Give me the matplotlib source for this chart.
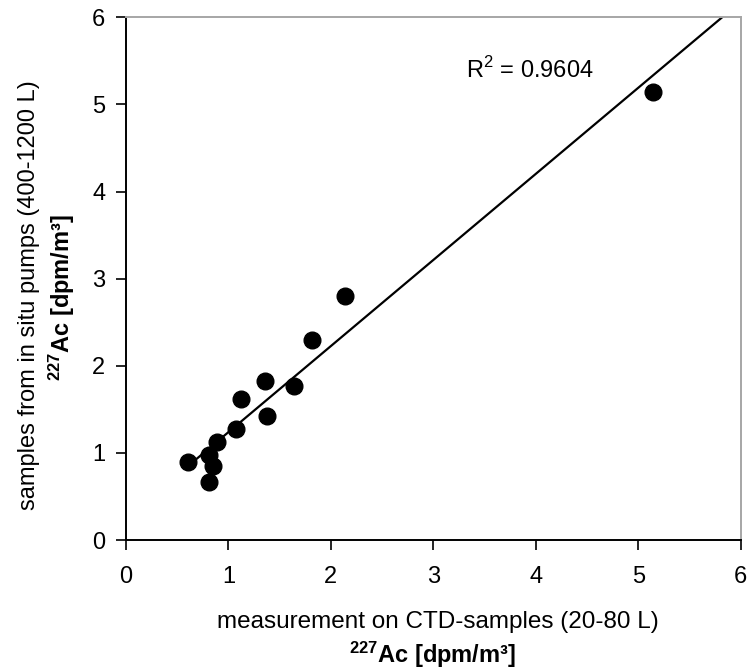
import numpy as np
import matplotlib
matplotlib.use("Agg")
import matplotlib.pyplot as plt

# data (dpm/m3)
ctd = [0.61, 0.81, 0.85, 0.81, 0.89, 1.07, 1.12, 1.38, 1.36, 1.64, 1.82, 2.14, 5.14]
pumps = [0.89, 0.98, 0.85, 0.67, 1.12, 1.28, 1.62, 1.42, 1.82, 1.77, 2.30, 2.80, 5.14]
r2_text = "R$^2$ = 0.9604"
ticks = [0, 1, 2, 3, 4, 5, 6]

plt.rcParams['font.family'] = ['Liberation Sans', 'DejaVu Sans']
plt.rcParams['mathtext.fontset'] = 'custom'
plt.rcParams['mathtext.rm'] = 'Liberation Sans'
plt.rcParams['mathtext.bf'] = 'Liberation Sans:bold'

fig = plt.figure(figsize=(7.49, 6.71), dpi=100)
ax = fig.add_axes([0.1682, 0.1952, 0.8207, 0.779])

x = np.array(ctd)
y = np.array(pumps)
ax.plot(x, y, 'o', color='black', markersize=12, zorder=3)

# linear trend line
k, b = np.polyfit(x, y, 1)
xs = np.array([x.min(), 6.0])
ax.plot(xs, k * xs + b, color='black', lw=1.6, zorder=2)

ax.set_xlim(0, 6)
ax.set_ylim(0, 6)
ax.set_xticks(ticks)
ax.set_yticks(ticks)
ax.tick_params(direction='out', length=7, width=1.2, labelsize=17)
ax.tick_params(axis='x', pad=12)
ax.tick_params(axis='y', pad=8)

for s in ['left', 'bottom']:
    ax.spines[s].set_color('black')
    ax.spines[s].set_linewidth(1.4)
for s in ['top', 'right']:
    ax.spines[s].set_color('#a6a6a6')
    ax.spines[s].set_linewidth(1.4)

fig.text(466 / 749, 1 - 70 / 671, r2_text, fontsize=17, va='center', ha='left')

fig.text(438 / 749, 1 - 622 / 671, "measurement on CTD-samples (20-80 L)",
         fontsize=17.5, ha='center', va='center')
fig.text(432 / 749, 1 - 655 / 671, r"$\mathbf{^{227}}$Ac [dpm/m³]",
         fontsize=17, fontweight='bold', ha='center', va='center')
fig.text(29 / 749, 1 - 295 / 671, "samples from in situ pumps (400-1200 L)",
         fontsize=17, rotation=90, ha='center', va='center')
fig.text(62 / 749, 1 - 298 / 671, r"$\mathbf{^{227}}$Ac [dpm/m³]",
         fontsize=17, fontweight='bold', rotation=90, ha='center', va='center')

fig.savefig("out.png", dpi=100)
